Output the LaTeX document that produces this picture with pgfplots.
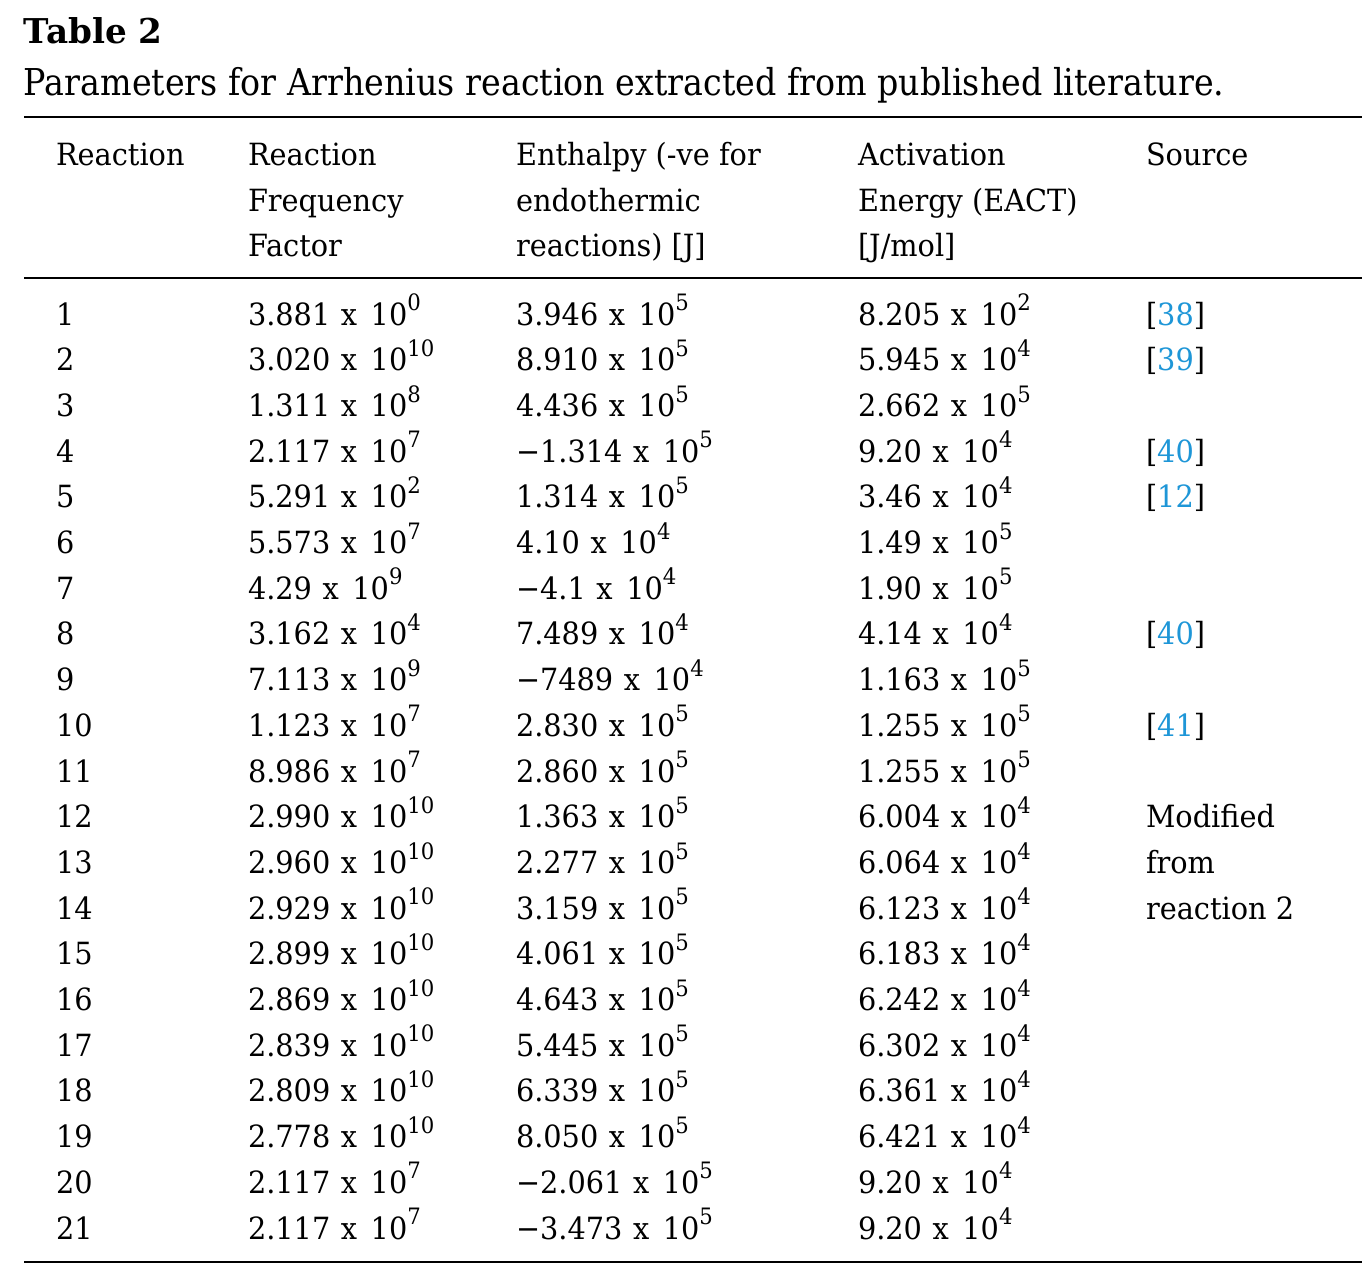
\documentclass[border=0pt]{standalone}
\usepackage{pgfplots}
\pgfplotsset{compat=1.18}
\usepackage{fontspec}
\setmainfont{DejaVu Serif}
\newfontfamily\bodyfam[FakeStretch=0.94]{DejaVu Serif}
\newfontfamily\capfam[FakeStretch=0.90]{DejaVu Serif}
\definecolor{linkblue}{RGB}{30,150,215}
\newcommand{\bodyfont}{\bodyfam\fontsize{15.3}{18}\selectfont}
\newcommand{\capfont}{\capfam\fontsize{18.5}{22}\selectfont}
\newcommand{\titlefont}{\fontsize{17.1}{20}\selectfont\bfseries}
\newcommand{\sps}[1]{\raisebox{7.2pt}{\fontsize{11.3}{12}\selectfont #1}}
\newcommand{\nm}[2]{#1\hspace{5.3pt}x\hspace{6.8pt}10\sps{#2}}
\newcommand{\rf}[1]{[\textcolor{linkblue}{#1}]}
\tikzset{cell/.style={anchor=base west, inner sep=0pt, outer sep=0pt, font=\bodyfont}}
\begin{document}
\begin{tikzpicture}
\begin{axis}[scale only axis, width=686pt, height=643pt,
  xmin=0, xmax=1372, ymin=0, ymax=1286, y dir=reverse,
  hide axis, clip=false]
\path (axis cs:0,0) rectangle (axis cs:1372,1286);
% title and caption
\node[cell, font=\titlefont] at (axis cs:24,43) {Table 2};
\node[cell, font=\capfont] at (axis cs:24,95) {Parameters for Arrhenius reaction extracted from published literature.};
% rules
\draw[line width=1.35pt] (axis cs:24,117) -- (axis cs:1362,117);
\draw[line width=1.15pt] (axis cs:24,278) -- (axis cs:1362,278);
\draw[line width=1.35pt] (axis cs:24,1262) -- (axis cs:1362,1262);
% header
\node[cell] at (axis cs:56,165) {Reaction};
\node[cell] at (axis cs:248,165) {Reaction};
\node[cell] at (axis cs:248,211) {Frequency};
\node[cell] at (axis cs:248,256) {Factor};
\node[cell] at (axis cs:516,165) {Enthalpy (-ve for};
\node[cell] at (axis cs:516,211) {endothermic};
\node[cell] at (axis cs:516,256) {reactions) [J]};
\node[cell] at (axis cs:858,165) {Activation};
\node[cell] at (axis cs:858,211) {Energy (EACT)};
\node[cell] at (axis cs:858,256) {[J/mol]};
\node[cell] at (axis cs:1146,165) {Source};
% body rows: baseline y = 325 + (i-1)*45.7
\node[cell] at (axis cs:56,325.0) {1};
\node[cell] at (axis cs:248,325.0) {\nm{3.881}{0}};
\node[cell] at (axis cs:516,325.0) {\nm{3.946}{5}};
\node[cell] at (axis cs:858,325.0) {\nm{8.205}{2}};
\node[cell] at (axis cs:1146,325.0) {\rf{38}};
\node[cell] at (axis cs:56,370.7) {2};
\node[cell] at (axis cs:248,370.7) {\nm{3.020}{10}};
\node[cell] at (axis cs:516,370.7) {\nm{8.910}{5}};
\node[cell] at (axis cs:858,370.7) {\nm{5.945}{4}};
\node[cell] at (axis cs:1146,370.7) {\rf{39}};
\node[cell] at (axis cs:56,416.4) {3};
\node[cell] at (axis cs:248,416.4) {\nm{1.311}{8}};
\node[cell] at (axis cs:516,416.4) {\nm{4.436}{5}};
\node[cell] at (axis cs:858,416.4) {\nm{2.662}{5}};
\node[cell] at (axis cs:56,462.1) {4};
\node[cell] at (axis cs:248,462.1) {\nm{2.117}{7}};
\node[cell] at (axis cs:516,462.1) {\nm{−1.314}{5}};
\node[cell] at (axis cs:858,462.1) {\nm{9.20}{4}};
\node[cell] at (axis cs:1146,462.1) {\rf{40}};
\node[cell] at (axis cs:56,507.8) {5};
\node[cell] at (axis cs:248,507.8) {\nm{5.291}{2}};
\node[cell] at (axis cs:516,507.8) {\nm{1.314}{5}};
\node[cell] at (axis cs:858,507.8) {\nm{3.46}{4}};
\node[cell] at (axis cs:1146,507.8) {\rf{12}};
\node[cell] at (axis cs:56,553.5) {6};
\node[cell] at (axis cs:248,553.5) {\nm{5.573}{7}};
\node[cell] at (axis cs:516,553.5) {\nm{4.10}{4}};
\node[cell] at (axis cs:858,553.5) {\nm{1.49}{5}};
\node[cell] at (axis cs:56,599.2) {7};
\node[cell] at (axis cs:248,599.2) {\nm{4.29}{9}};
\node[cell] at (axis cs:516,599.2) {\nm{−4.1}{4}};
\node[cell] at (axis cs:858,599.2) {\nm{1.90}{5}};
\node[cell] at (axis cs:56,644.9) {8};
\node[cell] at (axis cs:248,644.9) {\nm{3.162}{4}};
\node[cell] at (axis cs:516,644.9) {\nm{7.489}{4}};
\node[cell] at (axis cs:858,644.9) {\nm{4.14}{4}};
\node[cell] at (axis cs:1146,644.9) {\rf{40}};
\node[cell] at (axis cs:56,690.6) {9};
\node[cell] at (axis cs:248,690.6) {\nm{7.113}{9}};
\node[cell] at (axis cs:516,690.6) {\nm{−7489}{4}};
\node[cell] at (axis cs:858,690.6) {\nm{1.163}{5}};
\node[cell] at (axis cs:56,736.3) {10};
\node[cell] at (axis cs:248,736.3) {\nm{1.123}{7}};
\node[cell] at (axis cs:516,736.3) {\nm{2.830}{5}};
\node[cell] at (axis cs:858,736.3) {\nm{1.255}{5}};
\node[cell] at (axis cs:1146,736.3) {\rf{41}};
\node[cell] at (axis cs:56,782.0) {11};
\node[cell] at (axis cs:248,782.0) {\nm{8.986}{7}};
\node[cell] at (axis cs:516,782.0) {\nm{2.860}{5}};
\node[cell] at (axis cs:858,782.0) {\nm{1.255}{5}};
\node[cell] at (axis cs:56,827.7) {12};
\node[cell] at (axis cs:248,827.7) {\nm{2.990}{10}};
\node[cell] at (axis cs:516,827.7) {\nm{1.363}{5}};
\node[cell] at (axis cs:858,827.7) {\nm{6.004}{4}};
\node[cell] at (axis cs:1146,827.7) {Modified};
\node[cell] at (axis cs:56,873.4) {13};
\node[cell] at (axis cs:248,873.4) {\nm{2.960}{10}};
\node[cell] at (axis cs:516,873.4) {\nm{2.277}{5}};
\node[cell] at (axis cs:858,873.4) {\nm{6.064}{4}};
\node[cell] at (axis cs:1146,873.4) {from};
\node[cell] at (axis cs:56,919.1) {14};
\node[cell] at (axis cs:248,919.1) {\nm{2.929}{10}};
\node[cell] at (axis cs:516,919.1) {\nm{3.159}{5}};
\node[cell] at (axis cs:858,919.1) {\nm{6.123}{4}};
\node[cell] at (axis cs:1146,919.1) {reaction 2};
\node[cell] at (axis cs:56,964.8) {15};
\node[cell] at (axis cs:248,964.8) {\nm{2.899}{10}};
\node[cell] at (axis cs:516,964.8) {\nm{4.061}{5}};
\node[cell] at (axis cs:858,964.8) {\nm{6.183}{4}};
\node[cell] at (axis cs:56,1010.5) {16};
\node[cell] at (axis cs:248,1010.5) {\nm{2.869}{10}};
\node[cell] at (axis cs:516,1010.5) {\nm{4.643}{5}};
\node[cell] at (axis cs:858,1010.5) {\nm{6.242}{4}};
\node[cell] at (axis cs:56,1056.2) {17};
\node[cell] at (axis cs:248,1056.2) {\nm{2.839}{10}};
\node[cell] at (axis cs:516,1056.2) {\nm{5.445}{5}};
\node[cell] at (axis cs:858,1056.2) {\nm{6.302}{4}};
\node[cell] at (axis cs:56,1101.9) {18};
\node[cell] at (axis cs:248,1101.9) {\nm{2.809}{10}};
\node[cell] at (axis cs:516,1101.9) {\nm{6.339}{5}};
\node[cell] at (axis cs:858,1101.9) {\nm{6.361}{4}};
\node[cell] at (axis cs:56,1147.6) {19};
\node[cell] at (axis cs:248,1147.6) {\nm{2.778}{10}};
\node[cell] at (axis cs:516,1147.6) {\nm{8.050}{5}};
\node[cell] at (axis cs:858,1147.6) {\nm{6.421}{4}};
\node[cell] at (axis cs:56,1193.3) {20};
\node[cell] at (axis cs:248,1193.3) {\nm{2.117}{7}};
\node[cell] at (axis cs:516,1193.3) {\nm{−2.061}{5}};
\node[cell] at (axis cs:858,1193.3) {\nm{9.20}{4}};
\node[cell] at (axis cs:56,1239.0) {21};
\node[cell] at (axis cs:248,1239.0) {\nm{2.117}{7}};
\node[cell] at (axis cs:516,1239.0) {\nm{−3.473}{5}};
\node[cell] at (axis cs:858,1239.0) {\nm{9.20}{4}};
\end{axis}
\end{tikzpicture}
\end{document}
